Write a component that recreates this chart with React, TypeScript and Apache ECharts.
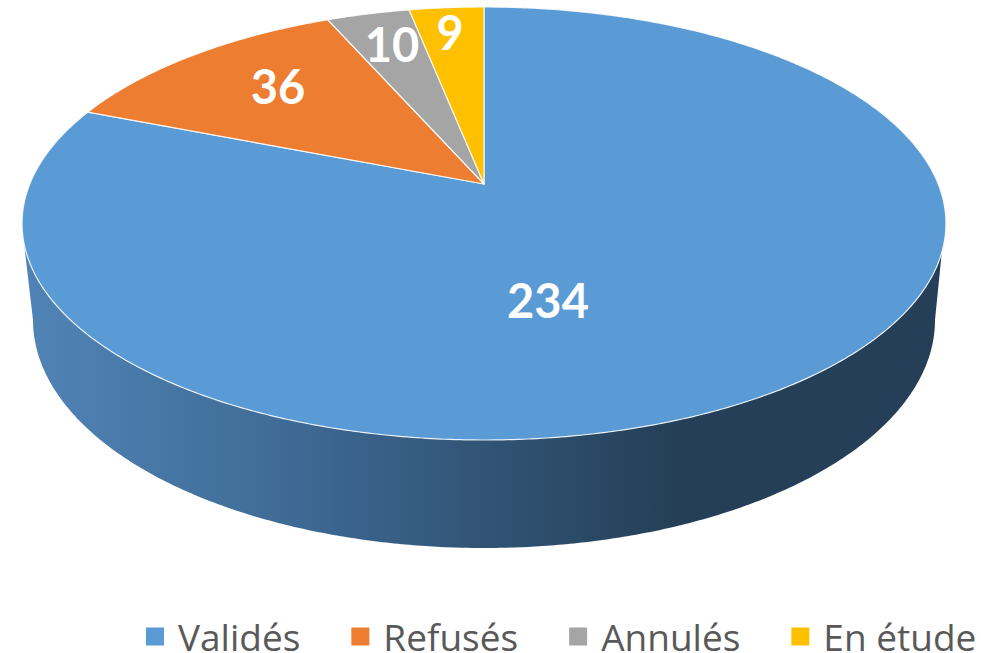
import React, { useEffect, useRef } from "react";
import * as echarts from "echarts";

const categories = ["Validés", "Refusés", "Annulés", "En étude"];
const values = [234, 36, 10, 9];
const colors = ["#5B9BD5", "#ED7D31", "#A5A5A5", "#FFC000"];
const valueLabels = ["234", "36", "10", "9"];

// Perspective projection of the pie's top and bottom planes
const TOP = { cx: 484, cy: 184, a: 454.2, b: 209.3, k: 0.1824 };
const BOTTOM = { cx: 484, cy: 320, a: 451, b: 228, k: 0 };
const LABEL_AT = [[548, 300], [278, 86], [392, 44], [450, 32]];
const LABEL_SIZE = 47;
const WALL_LEFT_DEG = 105.7;
const WALL_RIGHT_DEG = 108;

type Plane = typeof TOP;
const project = (p: Plane, deg: number, r = 1): number[] => {
  const t = (deg * Math.PI) / 180;
  const u = Math.sin(t) * r;
  const v = Math.cos(t) * r;
  const d = 1 + p.k * v;
  return [p.cx + (p.a * u) / d, p.cy - (p.b * v) / d];
};

const arc = (p: Plane, from: number, to: number): number[][] => {
  const n = Math.max(2, Math.ceil(Math.abs(to - from) * 2));
  const out: number[][] = [];
  for (let i = 0; i <= n; i++) out.push(project(p, from + ((to - from) * i) / n));
  return out;
};

const total = values.reduce((s, v) => s + v, 0);
const startDeg = (i: number) => (values.slice(0, i).reduce((s, v) => s + v, 0) / total) * 360;

function wallShape() {
  const top = arc(TOP, WALL_RIGHT_DEG, 360 - WALL_LEFT_DEG);
  const bottom = arc(BOTTOM, 270, 90);
  return {
    type: "polygon",
    shape: { points: [...top, ...bottom] },
    style: {
      fill: new echarts.graphic.LinearGradient(
        35,
        0,
        680,
        0,
        [
          { offset: 0, color: "#5083B5" },
          { offset: 0.41, color: "#3E6994" },
          { offset: 0.72, color: "#305272" },
          { offset: 1, color: "#243F57" },
        ],
        true
      ),
    },
  };
}

function makeRenderItem(index: number) {
  return (_params: any, _api: any) => {
    const from = startDeg(index);
    const to = startDeg(index + 1);
    const children: any[] = [];
    if (index === 0) children.push(wallShape());
    children.push({
      type: "polygon",
      shape: { points: [[TOP.cx, TOP.cy], ...arc(TOP, from, to)] },
      style: {
        fill: colors[index],
        stroke: "rgba(255,255,255,0.85)",
        lineWidth: 1.2,
        lineJoin: "round",
      },
    });
    return { type: "group", children };
  };
}

function labelRenderItem(_params: any, api: any) {
  const i = api.value(0);
  return {
    type: "text",
    x: LABEL_AT[i][0],
    y: LABEL_AT[i][1],
    style: {
      text: valueLabels[i],
      fill: "#FFFFFF",
      font: `bold ${LABEL_SIZE}px Lato`,
      textAlign: "center",
      textVerticalAlign: "middle",
    },
  };
}

export default function App() {
  const ref = useRef<HTMLDivElement>(null);
  useEffect(() => {
    const chart = echarts.init(ref.current!, undefined, { renderer: "svg" });
    chart.setOption({
      animation: false,
      backgroundColor: "#FFFFFF",
      legend: {
        left: 146,
        top: 618,
        padding: 0,
        itemWidth: 18,
        itemHeight: 18,
        itemGap: 51,
        icon: "rect",
        selectedMode: false,
        data: categories,
        textStyle: {
          color: "#595959",
          fontFamily: "Open Sans",
          fontSize: 37,
          lineHeight: 30,
          padding: [0, 0, 0, 9],
        },
      },
      series: [
        ...categories.map((name, i) => ({
          type: "custom",
          name,
          coordinateSystem: "none",
          silent: true,
          itemStyle: { color: colors[i] },
          renderItem: makeRenderItem(i),
          data: [values[i]],
        })),
        {
          type: "custom",
          coordinateSystem: "none",
          silent: true,
          renderItem: labelRenderItem,
          data: values.map((_, i) => [i]),
        },
      ],
    });
    return () => chart.dispose();
  }, []);
  return (
    <div
      ref={ref}
      style={{ position: "absolute", left: 0, top: 0, width: 981, height: 653 }}
    />
  );
}
